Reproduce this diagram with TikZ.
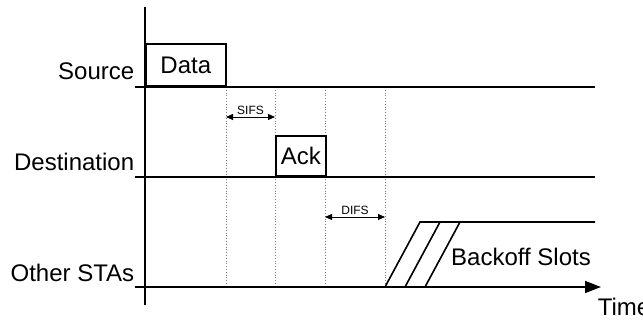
\documentclass[tikz,border=0pt]{standalone}
\usepackage{fontspec}
\setmainfont{Liberation Sans}
\usetikzlibrary{arrows.meta, positioning}

\begin{document}
\begin{tikzpicture}[x=1pt,y=-1pt,line width=1.6pt,
    lane/.style={anchor=east,inner sep=0pt,font=\fontsize{24}{26}\selectfont},
    frame/.style={draw,anchor=south west,inner sep=0pt,font=\fontsize{24}{26}\selectfont},
    guide/.style={draw=gray,dotted,line width=0.8pt},
    gap/.style={{Triangle[length=7pt,width=6pt]}-{Triangle[length=7pt,width=6pt]},line width=0.9pt},
    gaplabel/.style={above=2pt,inner sep=0pt,font=\fontsize{12}{13}\selectfont}]
  \useasboundingbox (0,0) rectangle (643,320);

  % time grid
  \coordinate (t0) at (145,87);
  \coordinate (t1) at (226,87);
  \coordinate (t2) at (275,87);
  \coordinate (t3) at (325,87);
  \coordinate (t4) at (385,87);
  \foreach \t in {t1,t2,t3,t4}
    \draw[guide] (\t) -- ++(0,200);

  % stations
  \node[lane] (src) at (135,71) {Source};
  \node[lane] (dst) at (135,162) {Destination};
  \node[lane] (sta) at (135,273) {Other STAs};
  \draw (135,87) -- (595,87);
  \draw (135,177) -- (595,177);

  % frames
  \node[frame,minimum width=80pt,minimum height=42pt] (data) at (t0) {Data};
  \node[frame,minimum width=50pt,minimum height=40pt] (ack) at (275,177) {Ack};

  % interframe spaces
  \draw[gap] (226,117) -- node[gaplabel] (sifs) {SIFS} (275,117);
  \draw[gap] (325,217) -- node[gaplabel] (difs) {DIFS} (385,217);

  % backoff slots
  \draw (385,287) -- (420,222) -- (595,222);
  \draw (405,287) -- (440,222);
  \draw (425,287) -- (460,222);
  \node[inner sep=0pt,font=\fontsize{24}{26}\selectfont] (slots) at (521,257) {Backoff Slots};

  % axes
  \draw (145,7) -- (145,305);
  \draw[-{Triangle[length=16pt,width=12pt]}] (135,287) -- (601,287);
  \node[anchor=west,inner sep=0pt,font=\fontsize{24}{26}\selectfont] (time) at (597,307) {Time};
\end{tikzpicture}
\end{document}
